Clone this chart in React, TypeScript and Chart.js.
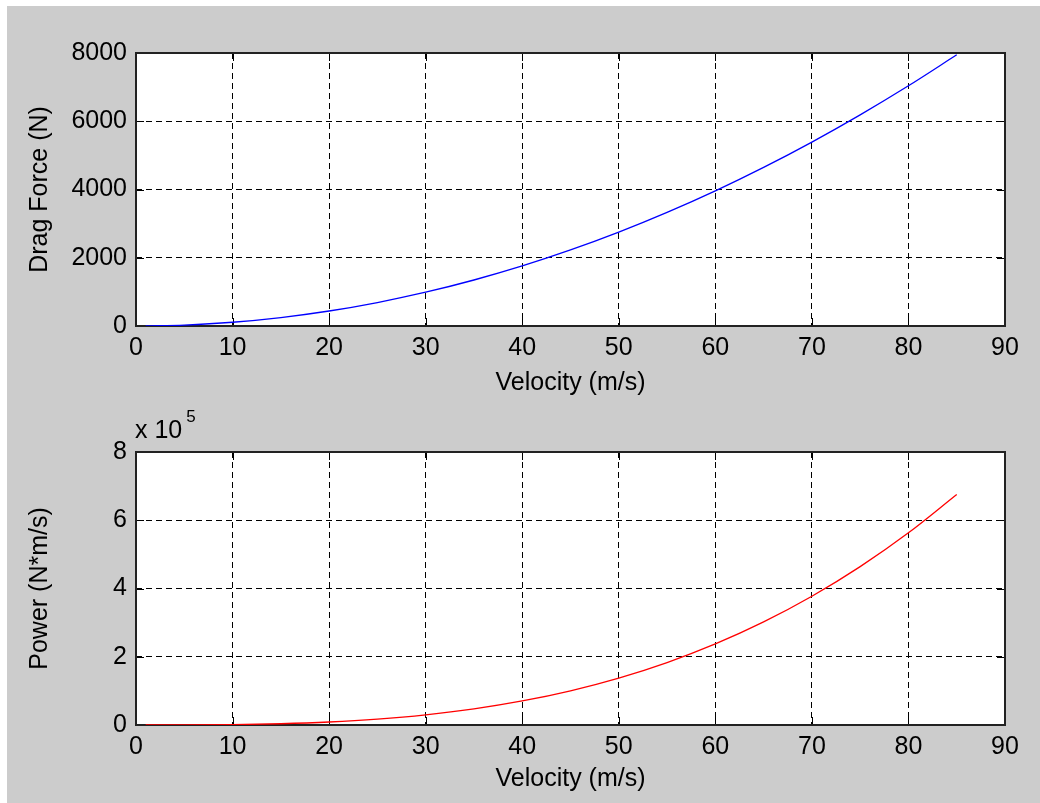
import React, { useEffect, useRef } from "react";
import { Chart, registerables } from "chart.js";

Chart.register(...registerables);

// ---- data ----
const velocity = [1, 5, 10, 15, 20, 25, 30, 35, 40, 45, 50, 55, 60, 65, 70, 75, 80, 85];
const dragForce = [1, 28, 110, 248, 440, 688, 990, 1348, 1760, 2228, 2750, 3328, 3960, 4648, 5390, 6188, 7040, 7948];
const power = [1, 138, 1100, 3713, 8800, 17188, 29700, 47163, 70400, 100238, 137500, 183013, 237600, 302088, 377300, 464063, 563200, 675538];

const xTicks = [0, 10, 20, 30, 40, 50, 60, 70, 80, 90];
const dragTicks = [0, 2000, 4000, 6000, 8000];
const powerTicks = [0, 200000, 400000, 600000, 800000];
const powerTickLabels = ["0", "2", "4", "6", "8"];

const xLabel = "Velocity (m/s)";
const dragLabel = "Drag Force (N)";
const powerLabel = "Power (N*m/s)";
const exponentBase = "x 10";
const exponentPower = "5";

const FONT = '"Liberation Sans", Arial, Helvetica, sans-serif';
const FONT_SIZE = 25;

const matlabAxesPlugin = {
  id: "matlabAxes",
  beforeDraw(chart: any) {
    const { ctx, chartArea: a } = chart;
    ctx.save();
    ctx.fillStyle = "#ffffff";
    ctx.fillRect(a.left, a.top, a.right - a.left, a.bottom - a.top);
    ctx.restore();
  },
  beforeDatasetsDraw(chart: any) {
    const { ctx, chartArea: a } = chart;
    const xs = chart.scales.x;
    const ys = chart.scales.y;
    const tl = 8;
    ctx.save();
    ctx.strokeStyle = "#000000";
    ctx.lineWidth = 1;
    ctx.setLineDash([]);
    ctx.beginPath();
    xs.ticks.forEach((t: any) => {
      const px = Math.round(xs.getPixelForValue(t.value)) + 0.5;
      ctx.moveTo(px, a.bottom);
      ctx.lineTo(px, a.bottom - tl);
      ctx.moveTo(px, a.top);
      ctx.lineTo(px, a.top + tl);
    });
    ys.ticks.forEach((t: any) => {
      const py = Math.round(ys.getPixelForValue(t.value)) + 0.5;
      ctx.moveTo(a.left, py);
      ctx.lineTo(a.left + tl, py);
      ctx.moveTo(a.right, py);
      ctx.lineTo(a.right - tl, py);
    });
    ctx.stroke();
    ctx.lineWidth = 2;
    ctx.strokeStyle = "#222222";
    ctx.strokeRect(a.left, a.top, a.right - a.left, a.bottom - a.top);
    ctx.restore();
  },
  afterDraw(chart: any, _args: any, opts: any) {
    const { ctx, chartArea: a } = chart;
    if (opts && opts.exponent) {
      ctx.save();
      ctx.fillStyle = "#000000";
      ctx.textAlign = "left";
      ctx.textBaseline = "alphabetic";
      ctx.font = `${FONT_SIZE}px ${FONT}`;
      const bx = a.left - 1;
      const by = a.top - 14.5;
      ctx.fillText(exponentBase, bx, by);
      const w = ctx.measureText(exponentBase).width;
      ctx.font = `17px ${FONT}`;
      ctx.fillText(exponentPower, bx + w + 4, a.top - 30);
      ctx.restore();
    }
  },
};

function makeConfig(
  values: number[],
  color: string,
  yTicks: number[],
  yTickLabels: string[] | null,
  yTitle: string,
  padTop: number,
  padBottom: number,
  xHeight: number,
  exponent: boolean
): any {
  return {
    type: "line",
    data: {
      datasets: [
        {
          data: velocity.map((v, i) => ({ x: v, y: values[i] })),
          borderColor: color,
          borderWidth: 1.3,
          pointRadius: 0,
          fill: false,
          cubicInterpolationMode: "monotone",
        },
      ],
    },
    options: {
      responsive: false,
      animation: false,
      devicePixelRatio: 1,
      layout: { padding: { left: 25, right: 35, top: padTop, bottom: padBottom } },
      plugins: {
        legend: { display: false },
        tooltip: { enabled: false },
        matlabAxes: { exponent },
      },
      scales: {
        x: {
          type: "linear",
          min: xTicks[0],
          max: xTicks[xTicks.length - 1],
          afterBuildTicks: (s: any) => {
            s.ticks = xTicks.map((v) => ({ value: v }));
          },
          afterFit: (s: any) => {
            s.height = xHeight;
          },
          grid: { color: "#000000", lineWidth: 1, drawTicks: false },
          border: { display: false, dash: [6, 4] },
          ticks: {
            color: "#000000",
            padding: 7,
            maxRotation: 0,
            autoSkip: false,
            font: { family: FONT, size: FONT_SIZE },
          },
          title: {
            display: true,
            text: xLabel,
            color: "#000000",
            padding: 0,
            font: { family: FONT, size: FONT_SIZE },
          },
        },
        y: {
          type: "linear",
          min: yTicks[0],
          max: yTicks[yTicks.length - 1],
          afterBuildTicks: (s: any) => {
            s.ticks = yTicks.map((v) => ({ value: v }));
          },
          afterFit: (s: any) => {
            s.width = 111;
          },
          grid: { color: "#000000", lineWidth: 1, drawTicks: false },
          border: { display: false, dash: [6, 4] },
          ticks: {
            color: "#000000",
            padding: 9,
            autoSkip: false,
            font: { family: FONT, size: FONT_SIZE },
            callback: (value: number) => {
              const idx = yTicks.indexOf(value);
              if (yTickLabels && idx >= 0) return yTickLabels[idx];
              return String(value);
            },
          },
          title: {
            display: true,
            text: yTitle,
            color: "#000000",
            padding: 0,
            font: { family: FONT, size: FONT_SIZE },
          },
        },
      },
    },
    plugins: [matlabAxesPlugin],
  };
}

export default function App() {
  const topRef = useRef<HTMLCanvasElement | null>(null);
  const botRef = useRef<HTMLCanvasElement | null>(null);

  useEffect(() => {
    if (!topRef.current || !botRef.current) return;
    const c1 = new Chart(
      topRef.current,
      makeConfig(dragForce, "#0000ff", dragTicks, null, dragLabel, 53, 2, 72, false)
    );
    const c2 = new Chart(
      botRef.current,
      makeConfig(power, "#ff0000", powerTicks, powerTickLabels, powerLabel, 52, 9, 69, true)
    );
    return () => {
      c1.destroy();
      c2.destroy();
    };
  }, []);

  return (
    <div
      style={{
        position: "fixed",
        left: 0,
        top: 0,
        width: 1040,
        height: 803,
        background: "#ffffff",
        overflow: "hidden",
      }}
    >
      <div
        style={{
          position: "absolute",
          left: 7,
          top: 6,
          width: 1033,
          height: 797,
          background: "#cccccc",
        }}
      />
      <canvas
        ref={topRef}
        width={1040}
        height={400}
        style={{ position: "absolute", left: 0, top: 0, width: 1040, height: 400 }}
      />
      <canvas
        ref={botRef}
        width={1040}
        height={403}
        style={{ position: "absolute", left: 0, top: 400, width: 1040, height: 403 }}
      />
    </div>
  );
}
